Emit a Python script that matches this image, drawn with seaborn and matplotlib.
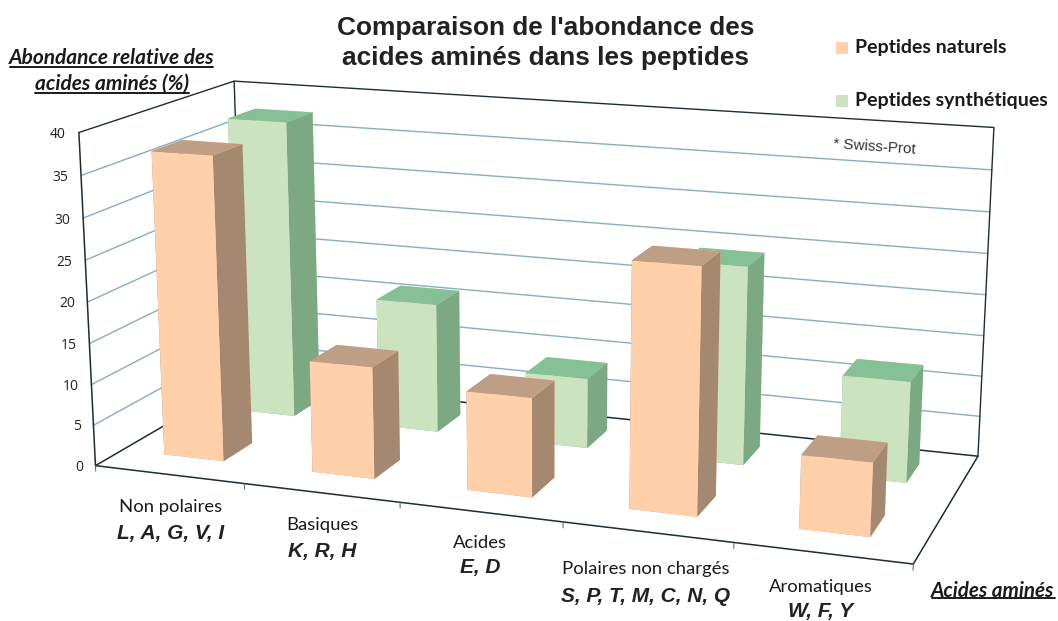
import numpy as np
import matplotlib
matplotlib.use("Agg")
import matplotlib.pyplot as plt
from matplotlib.lines import Line2D
from matplotlib.patches import Rectangle
import seaborn as sns
from mpl_toolkits.mplot3d import Axes3D  # noqa

# ---- data ----
categories = ["Non polaires", "Basiques", "Acides", "Polaires non chargés", "Aromatiques"]
residues = ["L, A, G, V, I", "K, R, H", "E, D", "S, P, T, M, C, N, Q", "W, F, Y"]
naturels = [37, 13.5, 11.8, 28.7, 8.5]
synthetiques = [37.6, 16.2, 8.7, 24.2, 12.2]
value_ticks = [0, 5, 10, 15, 20, 25, 30, 35, 40]

W, H = 1058, 621
sns.set_theme(style="white")
palette = sns.color_palette(["#FFD0AA", "#CBE3BE"])

fig = plt.figure(figsize=(W / 100, H / 100), dpi=100, facecolor="white")
ax = fig.add_axes([0, 0, 1, 1], projection="3d", computed_zorder=False)
ax.set_axis_off()
ax.apply_aspect = lambda position=None: None

# camera calibrated on the frame of the 3D chart (category, depth, value) -> pixel
n = len(categories)
calib = [((0, 0, 0), (95, 465)), ((0, 0, 40), (79, 132)), ((0, 1, 40), (234, 82)),
         ((0, 1, 0), (244, 378)), ((n, 1, 0), (978, 457)), ((n, 1, 40), (994, 127)),
         ((n, 0, 0), (913, 563)), ((1, 0, 0), (245, 485)), ((2, 0, 0), (400, 503))]
A = []
for (X, Y, Z), (u, v) in calib:
    A.append([X, Y, Z, 1, 0, 0, 0, 0, -u * X, -u * Y, -u * Z, -u])
    A.append([0, 0, 0, 0, X, Y, Z, 1, -v * X, -v * Y, -v * Z, -v])
P = np.linalg.svd(np.array(A, float))[2][-1].reshape(3, 4)
if P[2, 3] < 0:
    P = -P
M_px = np.vstack([P[0], P[1], [0, 0, 0, -1], P[2]])


def get_proj():
    T_ = ax.transData.get_affine().get_matrix()
    disp = np.array([[1, 0, 0], [0, -1, H], [0, 0, 1]], float)
    S = np.linalg.inv(T_) @ disp
    L = np.eye(4)
    L[0, [0, 1, 3]] = S[0]
    L[1, [0, 1, 3]] = S[1]
    return L @ M_px


ax.get_proj = get_proj


def to_px(x, y, z):
    u, v, w = P @ np.array([x, y, z, 1.0])
    return u / w, v / w


# frame and gridlines
GRID = "#86AEC0"
DARK = "#1E2C34"
for v in value_ticks[1:-1]:
    ax.plot([0, 0, n], [0, 1, 1], [v, v, v], color=GRID, lw=1.0, zorder=1)
ax.plot([0, 0, n, n], [0, 1, 1, 1], [40, 40, 40, 0], color=DARK, lw=1.0, zorder=1.1)
ax.plot([0, 0, 0], [0, 0, 1], [40, 0, 0], color=DARK, lw=1.1, zorder=1.1)
ax.plot([0, 0], [1, 1], [40, 0], color=DARK, lw=1.0, zorder=1.1)
ax.plot([0, n, n, 0], [0, 0, 1, 1], [0, 0, 0, 0], color=DARK, lw=1.1, zorder=1.1)
for i in range(n + 1):
    ax.plot([i, i], [0, 0], [0, -0.7], color="#556068", lw=0.7, zorder=1.1)

# bars: back row first, left to right
bar_x, bar_w = 0.285, 0.405
rows = [(0.67, 0.195, synthetiques, palette[1], "#86C095", "#7CA882"),
        (0.17, 0.195, naturels, palette[0], "#BE9E85", "#A58870")]
zo = 2.0
for y0, dy, vals, front, top, side in rows:
    for i, v in enumerate(vals):
        faces = [top, top, front, front, side, side]
        ax.bar3d(i + bar_x, y0, 0, bar_w, dy, v, color=faces, shade=False,
                 zorder=zo, edgecolor="none", linewidth=0)
        zo += 0.01


def T(px, py, s, **kw):
    fig.text(px / W, 1 - py / H, s, **kw)


# value tick labels
for v in value_ticks:
    px, py = to_px(-0.085, 0, v)
    T(px, py + 3, str(v), ha="right", va="center", fontsize=10,
      family="Open Sans", color="#222222")

LAT = dict(family="Lato", color="#1a1a1a")
ARB = dict(family="Liberation Sans", color="#222222", weight="bold")

T(546, 28, "Comparaison de l'abondance des", ha="center", va="center", fontsize=18.9, **ARB)
T(546, 58, "acides aminés dans les peptides", ha="center", va="center", fontsize=18.9, **ARB)

lab_xy = [(171, 507, 534), (322, 525, 552), (480, 543, 568), (646, 569, 596), (821, 587, 611)]
for (cx, y1, y2), c, r in zip(lab_xy, categories, residues):
    T(cx, y1, c, ha="center", va="center", fontsize=13.3, **LAT)
    T(cx, y2, r, ha="center", va="center", fontsize=15, style="italic", **ARB)

# axis titles with underline
T(112, 58, "Abondance relative des", ha="center", va="center", fontsize=15,
  style="italic", weight="bold", **LAT)
T(112, 84, "acides aminés (%)", ha="center", va="center", fontsize=15,
  style="italic", weight="bold", **LAT)
T(993, 591, "Acides aminés", ha="center", va="center", fontsize=14.9,
  style="italic", weight="bold", **LAT)
for x0, x1, y in [(10, 213, 67), (35, 189, 92.5), (932, 1055, 598)]:
    fig.add_artist(Line2D([x0 / W, x1 / W], [1 - y / H] * 2, color="#1a1a1a", lw=1.4))

# legend
for y, c, s in [(47.5, palette[0], "Peptides naturels"), (100.5, palette[1], "Peptides synthétiques")]:
    fig.add_artist(Rectangle((836 / W, 1 - (y + 6) / H), 12 / W, 12 / H, color=c,
                             transform=fig.transFigure, lw=0))
    T(855, y, s, ha="left", va="center", fontsize=14, weight="bold", **LAT)

T(874, 147, "* Swiss-Prot", ha="center", va="center", fontsize=11, rotation=-4,
  family="Liberation Sans", color="#333333")

fig.savefig("out.png", dpi=100)
